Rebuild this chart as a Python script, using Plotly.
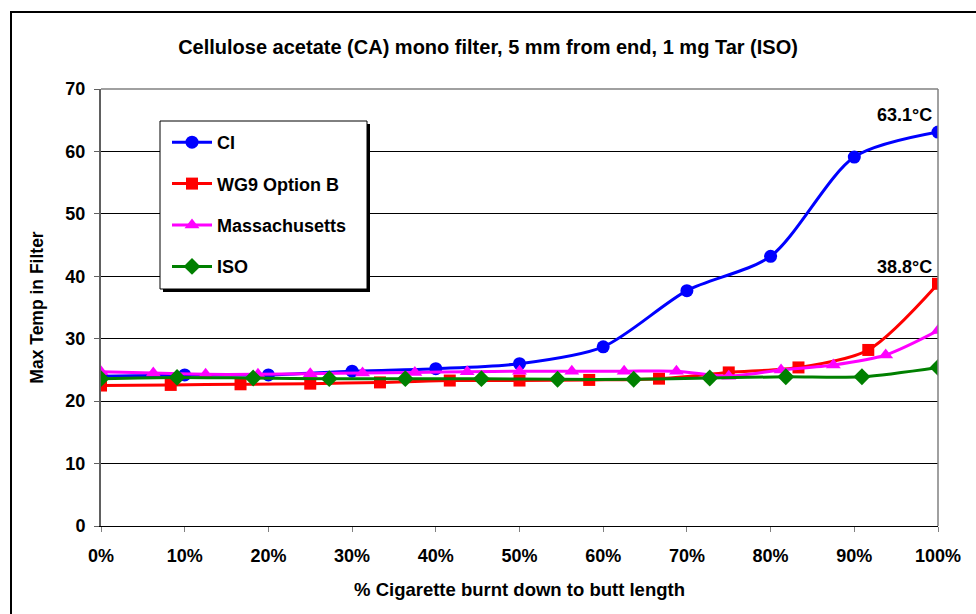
import plotly.graph_objects as go

ci_x = [0, 10, 20, 30, 40, 50, 60, 70, 80, 90, 100]
ci_y = [24.0, 24.2, 24.2, 24.8, 25.2, 26.0, 28.7, 37.7, 43.2, 59.1, 63.1]

wg9_x = [0, 8.33, 16.67, 25, 33.33, 41.67, 50, 58.33, 66.67, 75, 83.33, 91.67, 100]
wg9_y = [22.5, 22.6, 22.7, 22.8, 23.0, 23.3, 23.3, 23.4, 23.6, 24.6, 25.4, 28.2, 38.8]

mass_x = [0, 6.25, 12.5, 18.75, 25, 31.25, 37.5, 43.75, 50, 56.25, 62.5, 68.75, 75, 81.25, 87.5, 93.75, 100]
mass_y = [24.7, 24.5, 24.3, 24.3, 24.4, 24.5, 24.6, 24.7, 24.8, 24.8, 24.8, 24.8, 24.0, 25.0, 25.8, 27.4, 31.3]

iso_x = [0, 9.09, 18.18, 27.27, 36.36, 45.45, 54.55, 63.64, 72.73, 81.82, 90.91, 100]
iso_y = [23.6, 23.8, 23.7, 23.6, 23.6, 23.6, 23.5, 23.5, 23.7, 23.9, 23.9, 25.4]

title = "Cellulose acetate (CA) mono filter, 5 mm from end, 1 mg Tar (ISO)"
x_title = "% Cigarette burnt down to butt length"
y_title = "Max Temp in Filter"
x_ticks = [0, 10, 20, 30, 40, 50, 60, 70, 80, 90, 100]
x_tick_text = ["0%", "10%", "20%", "30%", "40%", "50%", "60%", "70%", "80%", "90%", "100%"]
labels = [(100, 63.1, "63.1°C"), (100, 38.8, "38.8°C")]

FONT = "Liberation Sans, Arial, sans-serif"
L, R, T, B = 101, 938, 89, 526
W, H = R - L, B - T


def px(xp):
    return (xp - L) / W


def py(yp):
    return (B - yp) / H


fig = go.Figure()
series = [
    ("CI", ci_x, ci_y, "#0000FF", "circle", 13),
    ("WG9 Option B", wg9_x, wg9_y, "#FF0000", "square", 12),
    ("Massachusetts", mass_x, mass_y, "#FF00FF", "triangle-up", 13),
    ("ISO", iso_x, iso_y, "#008000", "diamond", 13),
]
for i, (name, xs, ys, col, sym, sz) in enumerate(series):
    fig.add_trace(go.Scatter(
        x=xs, y=ys, name=f"<b>{name}</b>", mode="lines+markers",
        line=dict(color=col, width=3, shape="spline", smoothing=0.8),
        marker=dict(color=col, symbol=sym, size=sz, line=dict(width=0)),
        legendgroup=f"g{i}",
    ))

for x, y, t in labels:
    fig.add_annotation(x=x, y=y, text=f"<b>{t}</b>", showarrow=False,
                       xanchor="right", yanchor="bottom", xshift=-4, yshift=5,
                       font=dict(family=FONT, size=18, color="black"))

# outer chart border
fig.add_shape(type="rect", xref="paper", yref="paper",
              x0=px(11), x1=px(990), y0=py(630), y1=py(12),
              line=dict(color="black", width=2), fillcolor="rgba(0,0,0,0)", layer="below")
# legend shadow + box
fig.add_shape(type="rect", xref="paper", yref="paper",
              x0=px(163), x1=px(370), y0=py(292), y1=py(124),
              line=dict(width=0), fillcolor="black", layer="above")
fig.add_shape(type="rect", xref="paper", yref="paper",
              x0=px(160), x1=px(367), y0=py(289), y1=py(121),
              line=dict(color="black", width=1), fillcolor="white", layer="above")
# right/top plot border in gray
fig.add_shape(type="line", xref="paper", yref="paper", x0=1, x1=1, y0=0, y1=1,
              line=dict(color="#808080", width=1.5))
fig.add_shape(type="line", xref="paper", yref="paper", x0=0, x1=1, y0=1, y1=1,
              line=dict(color="#808080", width=1.5))

fig.update_layout(
    width=976, height=614,
    margin=dict(l=L, r=976 - R, t=T, b=614 - B),
    paper_bgcolor="white", plot_bgcolor="white",
    title=dict(text=f"<b>{title}</b>", x=0.5, xref="container", xanchor="center",
               y=(614 - 47) / 614, yanchor="middle",
               font=dict(family=FONT, size=20, color="black")),
    font=dict(family=FONT, color="black"),
    showlegend=True,
    legend=dict(x=px(167), y=py(124), xanchor="left", yanchor="top",
                bgcolor="rgba(0,0,0,0)", borderwidth=0,
                font=dict(family=FONT, size=18, color="black"),
                tracegroupgap=15, itemwidth=40,
                ),
    xaxis=dict(range=[0, 100], tickvals=x_ticks, ticktext=[f"<b>{t}</b>" for t in x_tick_text],
               showgrid=False, zeroline=False, showline=True, linecolor="black", linewidth=1,
               mirror=False, ticks="outside", ticklen=5, tickcolor="#808080",
               ticklabelstandoff=8,
               tickfont=dict(family=FONT, size=18, color="black"),
               title=dict(text=f"<b>{x_title}</b>", font=dict(family=FONT, size=18.5, color="black"), standoff=18)),
    yaxis=dict(range=[0, 70], dtick=10, tickformat="d",
               showgrid=True, gridcolor="black", gridwidth=1, zeroline=False,
               showline=True, linecolor="#606060", linewidth=2,
               ticks="outside", ticklen=5, tickcolor="#606060",
               ticklabelstandoff=5,
               tickprefix="<b>", ticksuffix="</b>",
               tickfont=dict(family=FONT, size=18, color="black"),
               title=dict(text=f"<b>{y_title}</b>", font=dict(family=FONT, size=17.5, color="black"), standoff=17)),
)
fig.write_html("out.html")
